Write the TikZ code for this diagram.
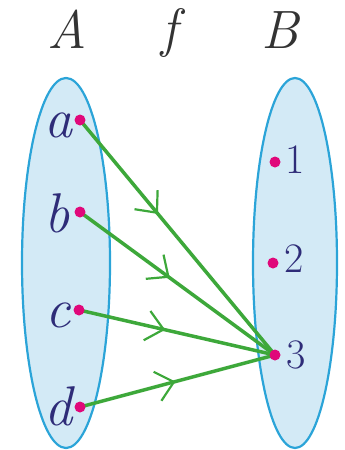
\documentclass[tikz,border=0pt]{standalone}
\usetikzlibrary{arrows.meta,decorations.markings}
\definecolor{setfill}{HTML}{D3EAF6}
\definecolor{setdraw}{HTML}{2BA4D8}
\definecolor{dotcol}{HTML}{E0087A}
\definecolor{arrcol}{HTML}{3DA83A}
\definecolor{lblcol}{HTML}{2E2C78}
\definecolor{hdcol}{HTML}{333333}
\tikzset{
  setshape/.style={fill=setfill,draw=setdraw,line width=2.2pt},
  pt/.style={circle,fill=dotcol,inner sep=0pt,minimum size=11pt},
  elem/.style={anchor=base,text=lblcol,font=\fontsize{56}{60}\selectfont\itshape},
  num/.style={anchor=base,text=lblcol,font=\fontsize{42}{48}\selectfont},
  head/.style={anchor=base,text=hdcol,font=\fontsize{54}{60}\selectfont\itshape},
  maparrow/.style={draw=arrcol,line width=3.5pt,postaction={decorate},
    decoration={markings,mark=at position #1 with {\arrow[arrcol]{Straight Barb[length=17pt,width=30pt,line width=2.2pt]}}}},
}
\begin{document}
\begin{tikzpicture}[x=1pt,y=-1pt]
\useasboundingbox (0,0) rectangle (345,450);
% headers
\node[head] (hA) at (67,48) {A};
\node[head] (hf) at (170,46) {f};
\node[head] (hB) at (280,48) {B};
% sets
\draw[setshape] (66,263) ellipse [x radius=44pt, y radius=185pt];
\draw[setshape] (295,263) ellipse [x radius=42pt, y radius=185pt];
% points
\coordinate (pa) at (80,120);
\coordinate (pb) at (80,212);
\coordinate (pc) at (79,310);
\coordinate (pd) at (80,407);
\coordinate (p1) at (275,162);
\coordinate (p2) at (273,263);
\coordinate (p3) at (275,355);
% arrows
\draw[maparrow=0.40] (pa) -- (p3);
\draw[maparrow=0.46] (pb) -- (p3);
\draw[maparrow=0.44] (pc) -- (p3);
\draw[maparrow=0.49] (pd) -- (p3);
% dots
\node[pt] (da) at (pa) {};
\node[pt] (db) at (pb) {};
\node[pt] (dc) at (pc) {};
\node[pt] (dd) at (pd) {};
\node[pt] (d1) at (p1) {};
\node[pt] (d2) at (p2) {};
\node[pt] (d3) at (p3) {};
% labels
\node[elem] (la) at (58,137) {a};
\node[elem] (lb) at (57,232) {b};
\node[elem] (lc) at (58,327) {c};
\node[elem] (ld) at (58,425) {d};
\node[num] (l1) at (295,173) {1};
\node[num] (l2) at (294,272) {2};
\node[num] (l3) at (296,368) {3};
\end{tikzpicture}
\end{document}
